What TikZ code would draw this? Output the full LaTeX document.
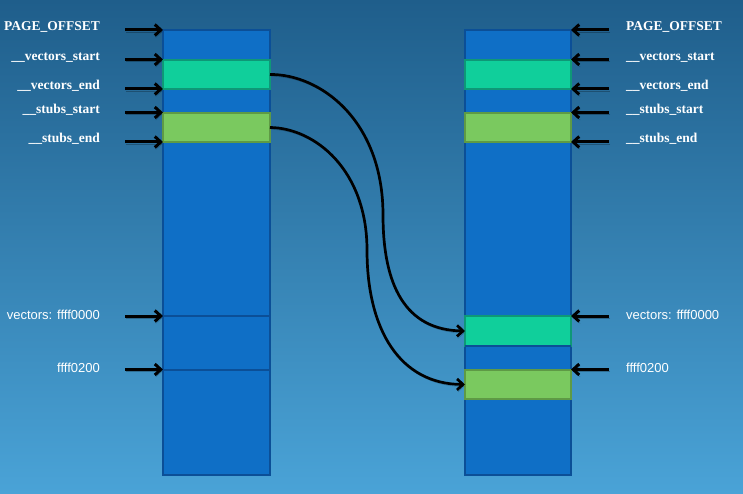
\documentclass[tikz,border=0pt]{standalone}
\usepackage{fontspec}
\setmainfont{Liberation Serif}
\setsansfont{Liberation Sans}
\usepackage{xcolor}
\usetikzlibrary{arrows.meta}
\definecolor{bgtop}{HTML}{1F5E8B}
\definecolor{bgbot}{HTML}{4AA3D7}
\definecolor{memfill}{HTML}{0F6FC6}
\definecolor{memline}{HTML}{0B4F97}
\definecolor{vecfill}{HTML}{10CF9B}
\definecolor{vecline}{HTML}{0E9877}
\definecolor{stubfill}{HTML}{7AC95F}
\definecolor{stubline}{HTML}{5E9A45}

\begin{document}
\begin{tikzpicture}[x=1pt, y=-1pt,
  mem/.style={draw=memline, fill=memfill, line width=2.5pt},
  sect/.style={draw, line width=2.5pt, minimum width=107pt, minimum height=29pt, inner sep=0pt, outer sep=0pt},
  shadowed/.style={preaction={draw=black, opacity=0.25, transform canvas={xshift=1pt, yshift=-2pt}}},
  ptr/.style={-{Straight Barb[length=6pt,width=11pt]}, line width=3pt, black, shadowed},
  jump/.style={-{Straight Barb[length=6pt,width=11pt]}, line width=2.7pt, black, shadowed},
  sym/.style={text=white, inner sep=0pt, font=\bfseries\fontsize{13.5}{15}\selectfont},
  addr/.style={text=white, inner sep=0pt, font=\sffamily\fontsize{13}{15}\selectfont}]
  \useasboundingbox (0,0) rectangle (743,494);
  \shade[top color=bgtop, bottom color=bgbot] (0,0) rectangle (743,494);

  % the two memory maps
  \draw[mem] (163,30) rectangle (270,475);
  \draw[mem] (465,30) rectangle (571,475);
  \draw[memline, line width=2.5pt] (163,316) -- (270,316);
  \draw[memline, line width=2.5pt] (163,370) -- (270,370);

  % sections that get copied
  \node[sect, draw=vecline, fill=vecfill] (lvec) at (216.5,74.5) {};
  \node[sect, draw=stubline, fill=stubfill] (lstub) at (216.5,127.5) {};
  \node[sect, draw=vecline, fill=vecfill, minimum width=106pt] (rvec) at (518,74.5) {};
  \node[sect, draw=stubline, fill=stubfill, minimum width=106pt] (rstub) at (518,127.5) {};
  \node[sect, draw=vecline, fill=vecfill, minimum width=106pt, minimum height=30pt] (rvecb) at (518,331) {};
  \draw[memline, line width=2.5pt] (465,346) -- (571,346);
  \node[sect, draw=stubline, fill=stubfill, minimum width=106pt] (rstubb) at (518,384.5) {};

  % symbols on both sides
  \foreach \y/\nm/\txt in {30/po/PAGE\_OFFSET, 59.5/vs/\_\_vectors\_start, 89/ve/\_\_vectors\_end,
                          112.5/ss/\_\_stubs\_start, 142/se/\_\_stubs\_end}{
    \node[sym, anchor=base east] (l\nm) at (100,\y+1) {\txt};
    \node[sym, anchor=base west] (r\nm) at (626,\y+1) {\txt};
    \coordinate (lt\nm) at (125,\y);
    \coordinate (lh\nm) at (163,\y);
    \coordinate (rt\nm) at (609,\y);
    \coordinate (rh\nm) at (571,\y);
    \draw[ptr] (lt\nm) -- (lh\nm);
    \draw[ptr] (rt\nm) -- (rh\nm);
  }

  % high vector addresses
  \foreach \y/\nm/\txt in {316/va/vectors: ffff0000, 369.5/vb/ffff0200}{
    \node[addr, anchor=base east] (l\nm) at (100,\y+3) {\txt};
    \node[addr, anchor=base west] (r\nm) at (626,\y+3) {\txt};
    \coordinate (lt\nm) at (125,\y);
    \coordinate (lh\nm) at (163,\y);
    \coordinate (rt\nm) at (609,\y);
    \coordinate (rh\nm) at (571,\y);
    \draw[ptr] (lt\nm) -- (lh\nm);
    \draw[ptr] (rt\nm) -- (rh\nm);
  }

  % copy
  \draw[jump] (lvec.east) .. controls (320,74) and (383,120) .. (383,215)
                          .. controls (383,285) and (405,330) .. (rvecb.west);
  \draw[jump] (lstub.east) .. controls (315,128) and (367,170) .. (367,250)
                           .. controls (367,330) and (400,384) .. (rstubb.west);
\end{tikzpicture}
\end{document}
